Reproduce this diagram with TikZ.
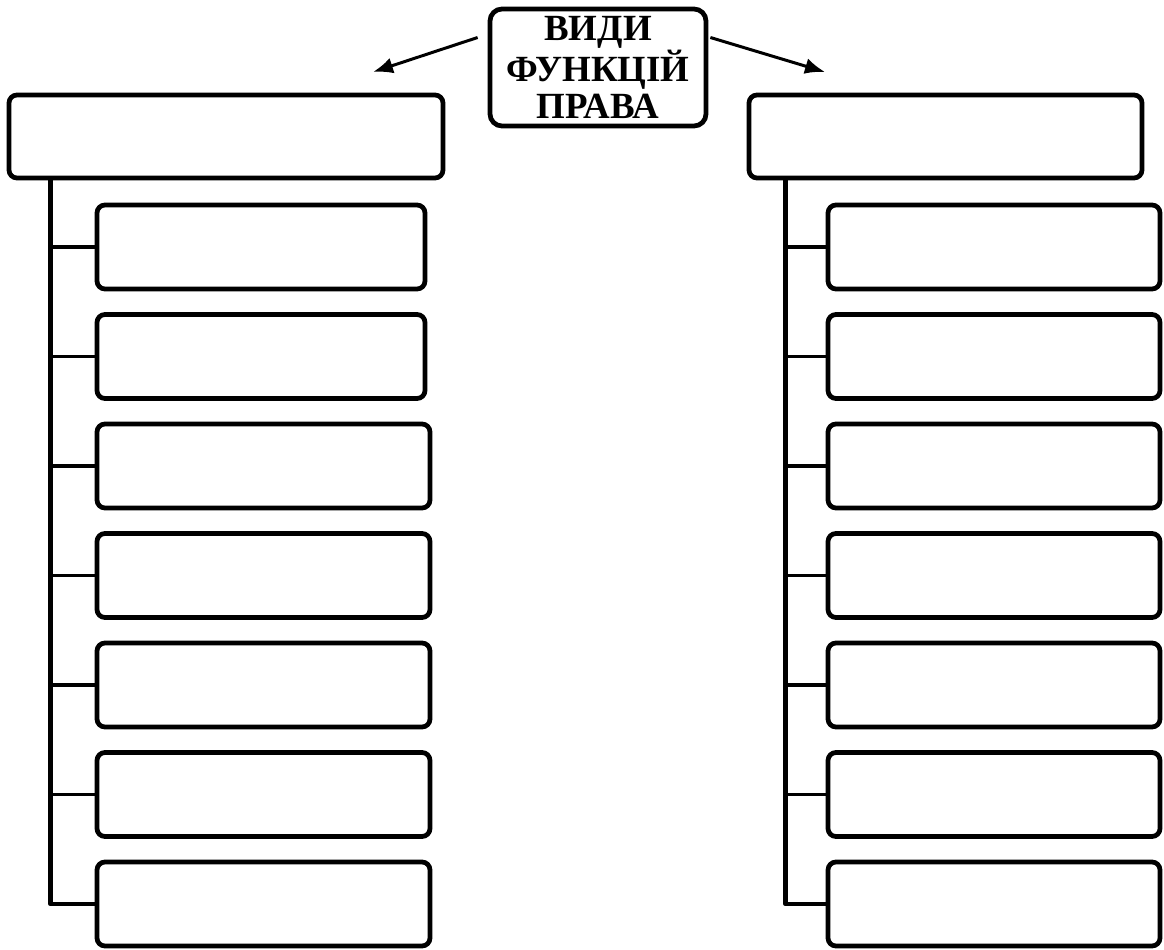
\documentclass[tikz,border=0pt]{standalone}
\usepackage{fontspec}
\setmainfont{Liberation Serif}
\usetikzlibrary{arrows.meta}

\begin{document}
\begin{tikzpicture}[x=0.2mm, y=-0.2mm, >={Latex[length=4mm,width=3.2mm]}]

\def\px{0.2mm}
\tikzset{
  box/.style={draw, line width=2.7pt, rounded corners=8*\px, minimum height=84*\px, inner sep=0pt},
  trunk/.style={line width=2.7pt, line join=round},
  branch/.style={line width=2.1pt},
  arr/.style={->, line width=1.7pt}
}
\useasboundingbox (0,0) rectangle (1164,950);

% title and the two heads
\node[box, rounded corners=12*\px, minimum width=216*\px, minimum height=117*\px,
      align=center, font=\bfseries\fontsize{21}{21.5}\selectfont] (title) at (598,67.5)
      {ВИДИ\\ФУНКЦІЙ\\ПРАВА};
\node[box, minimum width=434*\px, minimum height=83*\px] (left) at (226,136.5) {};
\node[box, minimum width=393*\px, minimum height=83*\px] (right) at (945.5,136.5) {};

\coordinate (la) at (373,72);
\coordinate (ra) at (825,72);
\draw[arr] ([shift={(-10,-30)}]title.west) -- (la);
\draw[arr] ([shift={(2,-30)}]title.east) -- (ra);

% the two columns of boxes
\foreach \i/\w in {1/328,2/328,3/333,4/333,5/333,6/333,7/333} {
  \pgfmathsetmacro\y{247+109.5*(\i-1)}
  \node[box, minimum width=\w*\px] (l\i) at (97+\w/2,\y) {};
  \node[box, minimum width=332*\px] (r\i) at (994,\y) {};
}

% connectors
\coordinate (lt) at ([xshift=44*\px]left.south west);
\coordinate (rt) at ([xshift=39*\px]right.south west);
\draw[trunk] (lt) |- (l7.west);
\draw[trunk] (rt) |- (r7.west);
\foreach \i in {1,...,6} {
  \draw[branch] (l\i.west) -- (l\i.west -| lt);
  \draw[branch] (r\i.west) -- (r\i.west -| rt);
}
\end{tikzpicture}
\end{document}
